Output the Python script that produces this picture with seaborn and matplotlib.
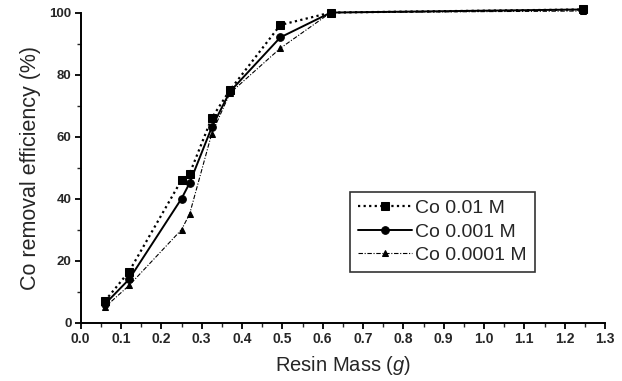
import numpy as np
import pandas as pd
import matplotlib
matplotlib.use("Agg")
import matplotlib.pyplot as plt
import seaborn as sns
from matplotlib.ticker import MultipleLocator, FormatStrFormatter

# data
resin_mass = [0.06, 0.12, 0.25, 0.27, 0.325, 0.37, 0.495, 0.62, 1.245]
co_001 = [7, 16.5, 46, 48, 66, 75, 96, 100, 101]
co_0001 = [6, 14, 40, 45, 63, 74.5, 92, 100, 101]
co_00001 = [5, 12, 30, 35, 61, 74, 88.5, 100, 100.5]

labels = ["Co 0.01 M", "Co 0.001 M", "Co 0.0001 M"]
series = [co_001, co_0001, co_00001]
markers = ["s", "o", "^"]
styles = [(0, (1, 1.5)), "-", (0, (4, 1.5, 1, 1.5))]
widths = [1.6, 1.4, 0.8]
msizes = [5.5, 5.5, 4.5]

sns.set_style("ticks")
plt.rcParams["font.family"] = ["Liberation Sans", "DejaVu Sans"]
plt.rcParams["mathtext.fontset"] = "custom"
plt.rcParams["mathtext.it"] = "Liberation Sans:italic"

fig = plt.figure(figsize=(6.22, 3.81), dpi=100)
ax = fig.add_axes([0.1297, 0.153, 0.843, 0.814])

for lab, vals, m, ls, lw, ms in zip(labels, series, markers, styles, widths, msizes):
    df = pd.DataFrame({"x": resin_mass, "y": vals})
    sns.lineplot(data=df, x="x", y="y", ax=ax, color="black", marker=m,
                 markersize=ms, markeredgecolor="black", linestyle=ls,
                 linewidth=lw, label=lab, clip_on=False, zorder=3)

ax.set_xlim(0, 1.3)
ax.set_ylim(0, 100)
ax.xaxis.set_major_locator(MultipleLocator(0.1))
ax.xaxis.set_minor_locator(MultipleLocator(0.05))
ax.xaxis.set_major_formatter(FormatStrFormatter("%.1f"))
ax.yaxis.set_major_locator(MultipleLocator(20))
ax.yaxis.set_minor_locator(MultipleLocator(10))
ax.tick_params(axis="both", which="major", direction="out", length=4.5, width=1.3,
               color="black", pad=2)
ax.tick_params(axis="x", which="major", labelsize=10)
ax.tick_params(axis="y", which="major", labelsize=9.5)
ax.tick_params(axis="both", which="minor", direction="out", length=3, width=1)
for t in ax.get_xticklabels() + ax.get_yticklabels():
    t.set_fontweight("bold")

sns.despine(ax=ax)
for sp in ["left", "bottom"]:
    ax.spines[sp].set_linewidth(1.4)
    ax.spines[sp].set_color("black")

ax.set_xlabel("Resin Mass ($g$)", fontsize=14.5, labelpad=6)
ax.set_ylabel("Co removal efficiency (%)", fontsize=15.5, labelpad=6)

leg = ax.legend(loc="upper left", bbox_to_anchor=(0.514, 0.422), fontsize=14,
                frameon=True, fancybox=False, edgecolor="black", handlelength=2.8,
                handletextpad=0.15, borderpad=0.4, labelspacing=0.3,
                borderaxespad=0)
leg.get_frame().set_linewidth(1.2)

fig.savefig("out.png", dpi=100)
